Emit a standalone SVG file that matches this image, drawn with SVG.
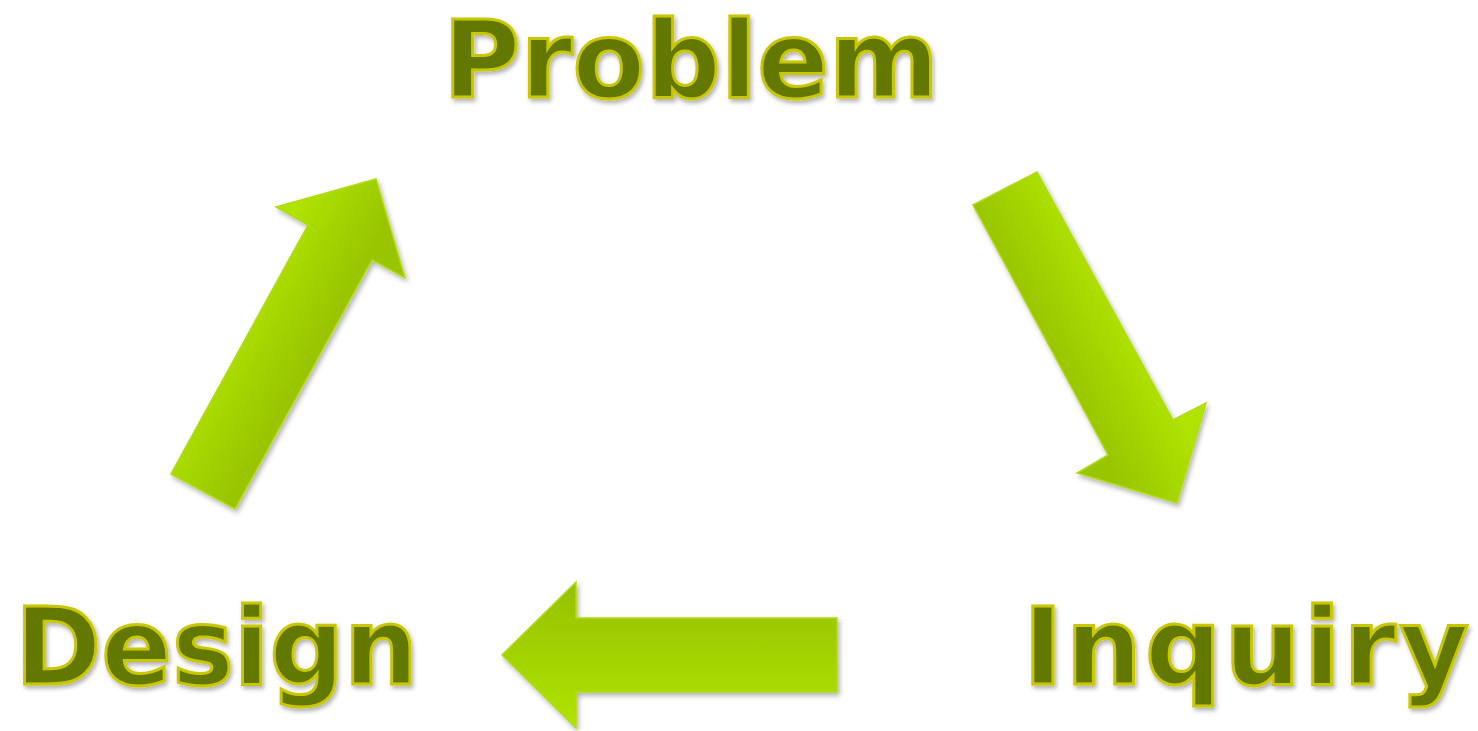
<svg xmlns="http://www.w3.org/2000/svg" width="1478" height="731" viewBox="0 0 1478 731">
<defs>
<style>
.lbl{font-family:"DejaVu Sans","Liberation Sans",sans-serif;font-weight:bold;font-size:107px;fill:#647800;stroke:#c9c800;stroke-width:3;filter:url(#ts)}
.arr{stroke:#b2dc10;stroke-width:1.5;stroke-linejoin:miter;filter:url(#as)}
</style>
<filter id="ts" x="-10%" y="-20%" width="120%" height="150%">
<feDropShadow dx="2" dy="3" stdDeviation="2" flood-color="#000" flood-opacity="0.3"/>
</filter>
<filter id="as" x="-20%" y="-20%" width="140%" height="140%">
<feDropShadow dx="2" dy="3" stdDeviation="2.5" flood-color="#000" flood-opacity="0.3"/>
</filter>
<linearGradient id="gUp" gradientUnits="userSpaceOnUse" x1="240" y1="300" x2="320" y2="345">
<stop offset="0" stop-color="#b0e400"/><stop offset="1" stop-color="#98c400"/>
</linearGradient>
<linearGradient id="gDown" gradientUnits="userSpaceOnUse" x1="1050" y1="360" x2="1130" y2="318">
<stop offset="0" stop-color="#98c400"/><stop offset="1" stop-color="#b0e400"/>
</linearGradient>
<linearGradient id="gLeft" gradientUnits="userSpaceOnUse" x1="0" y1="582" x2="0" y2="728">
<stop offset="0" stop-color="#96c000"/><stop offset="1" stop-color="#b0e400"/>
</linearGradient>
</defs>
<rect width="1478" height="731" fill="#ffffff"/>
<g id="node-problem"><text class="lbl" x="443" y="97" textLength="496" lengthAdjust="spacingAndGlyphs">Problem</text></g>
<g id="node-design"><text class="lbl" x="15" y="684" textLength="403" lengthAdjust="spacingAndGlyphs">Design</text></g>
<g id="node-inquiry"><text class="lbl" x="1023" y="684" textLength="446" lengthAdjust="spacing">Inquiry</text></g>
<g id="connectors">
<polygon class="arr" fill="url(#gUp)" points="171,474 235,509 372,260 405,278 376,179 276,207 308,225"/>
<polygon class="arr" fill="url(#gDown)" points="973,205 1037,172 1173,420 1206,403 1177,503 1077,473 1108,455"/>
<polygon class="arr" fill="url(#gLeft)" points="837,618 576,618 576,582 502,655 576,728 576,692 837,692"/>
</g>
</svg>
